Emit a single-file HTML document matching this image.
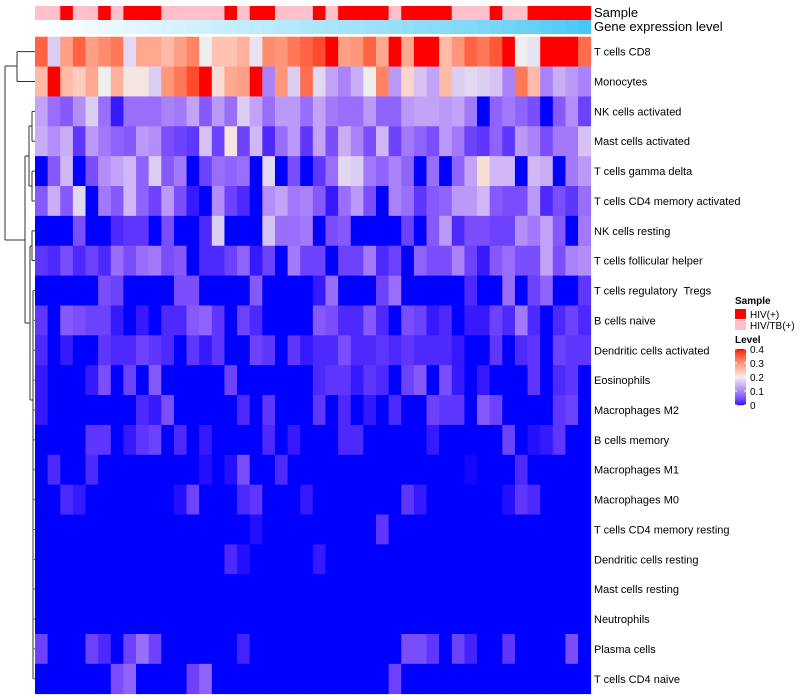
<!DOCTYPE html>
<html><head><meta charset="utf-8"><style>
html,body{margin:0;padding:0;background:#fff;width:800px;height:700px;overflow:hidden}
svg{display:block;font-family:"Liberation Sans",sans-serif}
text{white-space:pre}
</style></head><body>
<svg id="chart" width="800" height="700">
<g id="dendro" stroke="#333" stroke-width="1" fill="none"></g>
<g id="cells"></g>
<g id="annot"></g>
<g id="labels"></g>
<g id="legend"></g>
</svg>
<script>
const rowNames=["T cells CD8","Monocytes","NK cells activated","Mast cells activated","T cells gamma delta","T cells CD4 memory activated","NK cells resting","T cells follicular helper","T cells regulatory  Tregs","B cells naive","Dendritic cells activated","Eosinophils","Macrophages M2","B cells memory","Macrophages M1","Macrophages M0","T cells CD4 memory resting","Dendritic cells resting","Mast cells resting","Neutrophils","Plasma cells","T cells CD4 naive"];
const sampleGroups="PPRPPRPRRRPPPPPRPRRPPPRPRRRRPRRRRPPPRPPRRRRR".split("");
const geneExpr=[0,0.02,0.05,0.07,0.09,0.11,0.13,0.15,0.17,0.19,0.21,0.23,0.25,0.27,0.29,0.31,0.33,0.35,0.37,0.39,0.41,0.43,0.45,0.47,0.49,0.51,0.53,0.55,0.57,0.59,0.61,0.63,0.65,0.67,0.69,0.72,0.74,0.77,0.8,0.83,0.87,0.91,0.95,1];
const r0=[0.35,0.17,0.29,0.35,0.29,0.31,0.33,0.18,0.28,0.28,0.26,0.29,0.32,0.2,0.25,0.25,0.27,0.19,0.31,0.30,0.33,0.35,0.37,0.4,0.29,0.3,0.35,0.28,0.4,0.28,0.4,0.4,0.26,0.3,0.35,0.33,0.36,0.4,0.2,0.19,0.4,0.4,0.4,0.34];
const r1=[0.26,0.4,0.26,0.24,0.28,0.2,0.27,0.21,0.21,0.17,0.3,0.33,0.37,0.4,0.22,0.28,0.29,0.4,0.1,0.3,0.17,0.34,0.18,0.13,0.1,0.14,0.2,0.32,0.12,0.23,0.16,0.13,0.26,0.17,0.18,0.17,0.16,0.1,0.33,0.26,0.1,0.14,0.12,0.1];
const r2=[0.13,0.08,0.06,0.11,0.17,0.08,0.01,0.08,0.08,0.08,0.1,0.09,0.13,0.06,0.12,0.08,0.17,0.13,0.08,0.12,0.12,0.08,0.13,0.09,0.08,0.08,0.12,0.07,0.07,0.12,0.13,0.13,0.12,0.13,0.09,0,0.07,0.09,0.07,0.05,0,0.06,0.11,0.04];
const r3=[0.14,0.11,0.14,0.03,0.12,0.09,0.07,0.06,0.12,0.11,0.05,0.04,0.03,0.16,0.04,0.21,0.04,0.15,0.02,0.08,0.12,0.03,0.13,0.05,0.14,0.1,0.05,0.15,0.04,0.09,0.07,0.05,0.12,0.09,0.04,0.03,0.07,0.03,0.12,0.1,0.05,0.09,0.09,0.16];
const r4=[0,0.06,0.15,0,0.05,0.11,0.13,0.15,0.07,0.17,0.06,0.09,0,0.04,0.08,0.07,0.08,0,0.18,0,0.05,0,0.03,0.08,0.18,0.17,0.09,0.07,0.1,0.07,0,0.08,0,0.07,0.13,0.22,0.15,0.15,0,0.15,0.14,0,0.09,0.12];
const r5=[0.06,0.14,0.06,0.18,0,0.09,0.06,0.15,0.07,0.04,0.12,0.05,0.01,0,0.11,0.04,0.02,0,0.11,0.13,0.09,0.1,0.06,0.01,0.08,0.12,0.05,0,0.1,0.08,0.03,0.06,0.07,0.12,0.12,0.15,0.06,0.05,0.05,0.12,0.02,0.05,0.03,0.08];
const r6=[0,0,0,0.05,0,0,0.02,0.03,0.03,0,0.05,0,0,0.02,0.17,0,0,0,0.16,0.08,0.08,0.09,0,0.05,0.06,0,0,0,0,0.04,0,0.06,0.12,0.02,0.05,0.05,0.04,0.04,0.11,0.09,0.13,0.06,0,0.09];
const r7=[0.03,0.02,0.05,0.02,0.04,0.02,0.08,0.05,0.08,0.09,0.05,0.06,0,0.02,0.02,0.04,0.07,0.01,0.04,0,0.09,0.04,0.04,0,0.04,0.04,0.09,0.02,0.04,0,0.07,0.05,0.05,0.1,0.04,0.01,0.06,0.08,0.05,0.05,0.13,0.05,0.1,0.11];
const r8=[0,0,0,0,0,0.05,0.04,0,0,0,0,0.05,0.05,0,0,0,0,0.06,0,0,0,0,0.01,0.08,0,0,0,0.04,0.08,0,0,0,0,0,0.02,0,0,0.08,0,0.04,0.07,0,0,0.03];
const r9=[0.03,0,0.06,0.05,0.04,0.04,0.01,0,0.01,0,0.02,0.02,0.06,0.07,0.03,0,0.04,0.02,0,0,0,0,0.06,0.05,0.02,0.02,0.06,0.02,0,0.05,0.04,0.01,0.02,0,0.01,0.01,0.04,0.02,0.09,0.02,0,0.02,0.04,0.02];
const r10=[0.02,0,0.01,0,0,0.03,0.02,0.02,0.04,0.03,0.02,0,0.03,0.01,0.03,0,0,0.04,0.03,0,0.03,0.01,0.02,0.02,0.05,0.02,0.02,0.03,0.02,0.03,0.02,0.02,0.02,0.01,0,0,0.03,0,0.02,0.03,0,0.04,0.03,0.03];
const r11=[0.01,0,0,0,0.01,0.05,0,0.04,0,0.06,0,0,0,0,0,0.04,0,0,0,0,0,0,0.02,0.03,0.03,0.01,0.03,0.02,0,0.04,0.06,0,0.05,0.01,0,0.01,0,0,0,0.03,0,0.02,0.03,0];
const r12=[0.01,0,0,0,0,0,0,0,0.02,0.01,0.05,0,0,0,0,0,0.02,0,0.03,0,0,0,0.03,0,0.02,0,0.01,0,0.02,0,0,0.04,0.03,0.03,0,0.06,0.04,0,0,0,0,0.03,0.04,0];
const r13=[0,0,0,0,0.03,0.03,0,0.01,0.03,0.04,0,0.02,0,0.01,0,0,0,0,0.02,0,0.01,0,0,0,0.02,0.02,0,0,0,0,0,0.01,0,0,0,0,0,0.04,0,0.005,0.01,0.03,0,0];
const r14=[0,0.02,0,0,0.02,0,0,0,0,0,0,0,0,0.005,0,0.005,0.05,0,0,0.02,0,0,0,0,0,0,0,0,0,0,0,0,0,0,0.002,0,0,0,0.02,0,0,0,0,0];
const r15=[0,0,0.02,0.01,0,0,0,0,0,0,0,0.005,0.04,0,0,0,0.02,0.03,0,0,0,0.01,0,0,0,0,0,0,0,0.03,0.01,0,0,0,0,0,0,0.005,0.03,0.02,0,0,0,0];
const r16=[0,0,0,0,0,0,0,0,0,0,0,0,0,0,0,0,0,0.005,0,0,0,0,0,0,0,0,0,0.03,0,0,0,0,0,0,0,0,0,0,0,0,0,0,0,0];
const r17=[0,0,0,0,0,0,0,0,0,0,0,0,0,0,0,0.02,0.005,0,0,0,0,0,0.01,0,0,0,0,0,0,0,0,0,0,0,0,0,0,0,0,0,0,0,0,0];
const r18=[0,0,0,0,0,0,0,0,0,0,0,0,0,0,0,0,0,0,0,0,0,0,0,0,0,0,0,0,0,0,0,0,0,0,0,0,0,0,0,0,0,0,0,0];
const r19=[0,0,0,0,0,0,0,0,0,0,0,0,0,0,0,0,0,0,0,0,0,0,0,0,0,0,0,0,0,0,0,0,0,0,0,0,0,0,0,0,0,0,0,0];
const r20=[0.04,0,0,0,0.04,0.02,0,0.04,0.08,0.04,0,0,0,0,0,0,0.015,0,0,0,0,0,0,0,0,0,0,0,0,0.05,0.05,0.03,0,0.04,0.015,0,0,0.03,0,0,0,0,0.05,0];
const r21=[0,0,0,0,0,0,0.05,0.07,0,0,0,0,0.04,0.07,0,0,0,0,0,0,0,0,0,0,0,0,0,0,0.04,0,0,0,0,0,0,0,0,0,0,0,0,0,0,0];
const values=[r0,r1,r2,r3,r4,r5,r6,r7,r8,r9,r10,r11,r12,r13,r14,r15,r16,r17,r18,r19,r20,r21];
const legendTicks=[0,0.1,0.2,0.3,0.4];

const NS="http://www.w3.org/2000/svg";
const X0=35,X1=590.7,Y0=36.7,Y1=693.7;
const nCol=sampleGroups.length,nRow=rowNames.length;
const cw=(X1-X0)/nCol,rh=(Y1-Y0)/nRow;
function xPos(j){return X0+j*cw;}
function yPos(i){return Y0+i*rh;}
function mk(tag,attrs,parent){const e=document.createElementNS(NS,tag);for(const k in attrs)e.setAttribute(k,attrs[k]);parent.appendChild(e);return e;}
function lin(c){c/=255;return c<=0.04045?c/12.92:Math.pow((c+0.055)/1.055,2.4);}
function unlin(c){c=c<=0.0031308?12.92*c:1.055*Math.pow(c,1/2.4)-0.055;return Math.max(0,Math.min(255,Math.round(c*255)));}
function toLab(r,g,b){r=lin(r);g=lin(g);b=lin(b);let x=(r*0.4124+g*0.3576+b*0.1805)/0.95047,y=r*0.2126+g*0.7152+b*0.0722,z=(r*0.0193+g*0.1192+b*0.9505)/1.08883;const f=t=>t>0.008856?Math.cbrt(t):7.787*t+16/116;x=f(x);y=f(y);z=f(z);return[116*y-16,500*(x-y),200*(y-z)];}
function fromLab(L,a,b){let y=(L+16)/116,x=a/500+y,z=y-b/200;const fi=t=>t*t*t>0.008856?t*t*t:(t-16/116)/7.787;x=fi(x)*0.95047;y=fi(y);z=fi(z)*1.08883;const r=x*3.2406+y*-1.5372+z*-0.4986,g=x*-0.9689+y*1.8758+z*0.0415,bb=x*0.0557+y*-0.2040+z*1.0570;return`rgb(${unlin(r)},${unlin(g)},${unlin(bb)})`;}
const cBlue=toLab(0,0,255),cWhite=toLab(238,238,238),cRed=toLab(255,0,0);
function color(v){v=Math.max(0,Math.min(0.4,v));let a,b,t;if(v<=0.2){a=cBlue;b=cWhite;t=v/0.2;}else{a=cWhite;b=cRed;t=(v-0.2)/0.2;}return fromLab(a[0]+(b[0]-a[0])*t,a[1]+(b[1]-a[1])*t,a[2]+(b[2]-a[2])*t);}
function geneColor(v){const r=Math.round(255+(72-255)*v),g=Math.round(255+(198-255)*v),b=Math.round(255+(245-255)*v);return`rgb(${r},${g},${b})`;}

const cells=document.getElementById('cells');
values.forEach((row,i)=>row.forEach((v,j)=>{
  const r=mk('rect',{x:xPos(j),y:yPos(i),width:cw+0.4,height:rh+0.4,fill:color(v)},cells);
  
  
}));
const annot=document.getElementById('annot');
sampleGroups.forEach((s,j)=>{
  const r=mk('rect',{x:xPos(j),y:6,width:cw+0.4,height:14,fill:s==='R'?'#ff0000':'#ffc0cb'},annot);
  
  
});
geneExpr.forEach((v,j)=>{
  const r=mk('rect',{x:xPos(j),y:20,width:cw+0.4,height:14,fill:geneColor(v)},annot);
  
  
});
let t=mk('text',{x:594,y:17,'font-size':13},annot);t.textContent='Sample';


t=mk('text',{x:594,y:31,'font-size':13},annot);t.textContent='Gene expression level';



const labels=document.getElementById('labels');
rowNames.forEach((n,i)=>{
  const e=mk('text',{x:594,y:yPos(i)+rh/2+4,'font-size':11},labels);e.textContent=n;
  
  
});

const dendro=document.getElementById('dendro');
function c(i){return yPos(i)+rh/2;}
const segs=[];
segs.push(`M5 66 V240`,`M5 66 H17`,`M17 ${c(0)} V${c(1)} M17 ${c(0)} H35 M17 ${c(1)} H35`);
segs.push(`M5 240 H25`,`M25 156 V323`,`M25 156 H29 M29 126 V186`);
segs.push(`M29 126 H32 M32 ${c(2)} V${c(3)} M32 ${c(2)} H35 M32 ${c(3)} H35`);
segs.push(`M29 186 H32 M32 ${c(4)} V${c(5)} M32 ${c(4)} H35 M32 ${c(5)} H35`);
segs.push(`M25 323 H30 M30 246 V400 M30 246 H32 M32 ${c(6)} V${c(7)} M32 ${c(6)} H35 M32 ${c(7)} H35`);
segs.push(`M30 400 H33 M33 ${c(8)} V${c(21)}`);
let p=mk('path',{d:segs.join(' ')},dendro);


let d2='';for(let i=8;i<22;i++)d2+=`M33 ${c(i)} H35 `;
p=mk('path',{d:d2,stroke:'#666'},dendro);



const lg=document.getElementById('legend');
t=mk('text',{x:735,y:304,'font-size':10,'font-weight':'bold'},lg);t.textContent='Sample';

[['#ff0000','HIV(+)',309],['#ffc0cb','HIV/TB(+)',320]].forEach(([col,lab,y])=>{
  const r=mk('rect',{x:735,y:y,width:11,height:10,fill:col},lg);
  
  const tx=mk('text',{x:750,y:y+9,'font-size':10},lg);tx.textContent=lab;
  
});
t=mk('text',{x:735,y:343,'font-size':10,'font-weight':'bold'},lg);t.textContent='Level';

const BY0=349,BY1=405;
for(let k=0;k<56;k++){const v=0.4*(1-k/56);
  const r=mk('rect',{x:735,y:BY0+k,width:11,height:1.2,fill:color(v)},lg);
  }
legendTicks.forEach(v=>{const y=BY1-(v/0.4)*(BY1-BY0);
  const l=mk('path',{d:`M735 ${y} h2 M744 ${y} h2`,stroke:'#fff','stroke-width':1},lg);
  
  const tx=mk('text',{x:750,y:y+4,'font-size':10},lg);tx.textContent=String(v);
  });
</script>
</body></html>
